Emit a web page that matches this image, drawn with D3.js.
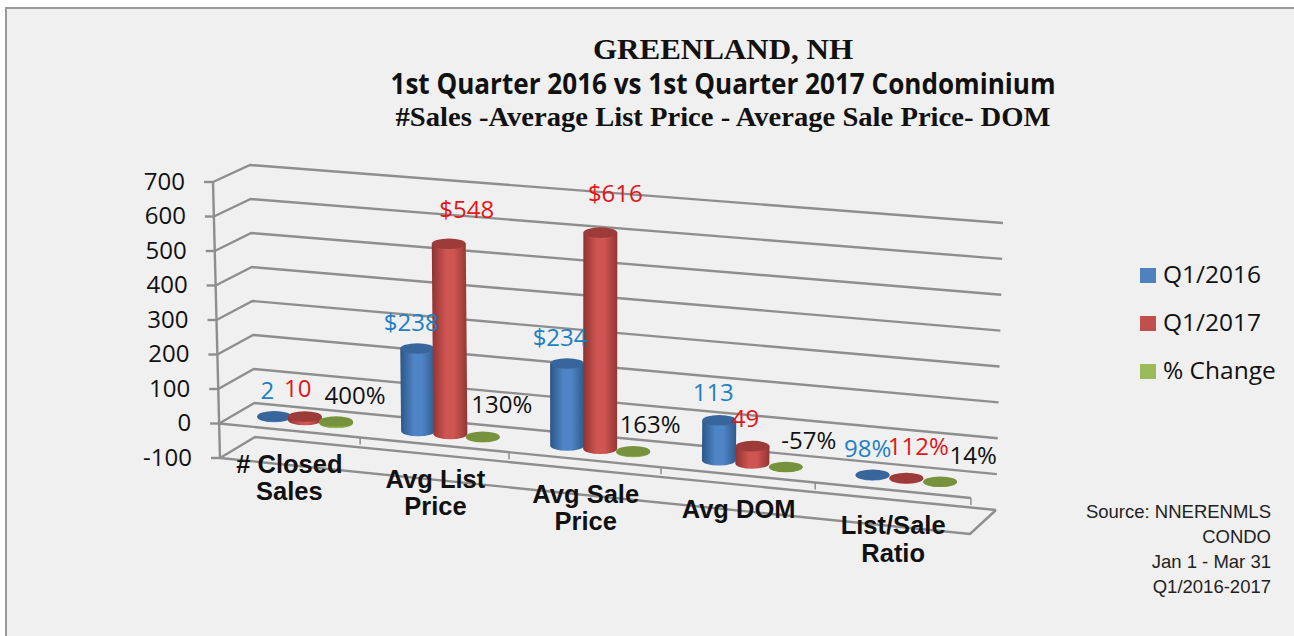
<!DOCTYPE html>
<html>
<head>
<meta charset="utf-8">
<script src="https://cdn.jsdelivr.net/npm/d3@7"></script>
<style>
  html, body { margin: 0; padding: 0; background: #fff; }
  svg { display: block; }
  text { font-family: "Open Sans", sans-serif; }
</style>
</head>
<body>
<div id="container"></div>
<script>
const width = 1294;
const height = 636;

const categories = ['# Closed Sales', 'Avg List Price', 'Avg Sale Price', 'Avg DOM', 'List/Sale Ratio'];
const categoryLines = [['# Closed', 'Sales'], ['Avg List', 'Price'], ['Avg Sale', 'Price'], ['Avg DOM'], ['List/Sale', 'Ratio']];
const seriesNames = ['Q1/2016', 'Q1/2017', '% Change'];
const q12016 = [2, 238, 234, 113, 0.98];
const q12017 = [10, 548, 616, 49, 1.12];
const pctChange = [4, 1.3, 1.63, -0.57, 0.14];
const labels2016 = ['2', '$238', '$234', '113', '98%'];
const labels2017 = ['10', '$548', '$616', '49', '112%'];
const labelsPct = ['400%', '130%', '163%', '-57%', '14%'];
const yTicks = [-100, 0, 100, 200, 300, 400, 500, 600, 700];

const seriesValues = [q12016, q12017, pctChange];
const seriesLabels = [labels2016, labels2017, labelsPct];

const barFill = ['#4f81bd', '#c0504d', '#9bbb59'];
const capFill = ['#38669c', '#9c3b39', '#76923c'];
const labelFill = ['#1f7fc4', '#e3151b', '#111111'];

// label offsets from the top of each bar (dx, baseline dy)
const labelNudge = [
  [[-7, -17], [-6, -17], [-7, -18], [-6, -19], [-5, -18]],
  [[-7, -19], [18, -26], [15, -31], [-7, -19], [12, -23]],
  [[19, -18], [19, -24], [17, -18], [23, -18], [33, -18]]
];

// corners of the 3d box on screen, [bottom (-100), top (700)]
const frontLeft = [[220, 458], [213, 182]];
const backLeft = [[255, 437], [250, 165]];
const backRight = [[996, 510], [1003, 223]];
const frontRight = [[970, 534], [977, 246]];

const yScale = d3.scaleLinear().domain([-100, 700]).range([0, 1]);
const perspective = d3.scalePow().exponent(1.04).domain([0, 1]).range([0, 1]);
const xBand = d3.scaleBand().domain(categories).range([0, 1]);
const seriesBand = d3.scaleBand().domain(seriesNames).range([-0.0655, 0.0655]);

function lerp(a, b, t) { return a + (b - a) * t; }
function edge(c, t) { return [lerp(c[0][0], c[1][0], t), lerp(c[0][1], c[1][1], t)]; }

// u: along the categories 0..1, depth: 0 front, 1 back, v: data value
function project(u, depth, v) {
  const t = yScale(v);
  const p = perspective(u);
  const fl = edge(frontLeft, t), bl = edge(backLeft, t), br = edge(backRight, t), fr = edge(frontRight, t);
  const front = [lerp(fl[0], fr[0], p), lerp(fl[1], fr[1], p)];
  const back = [lerp(bl[0], br[0], p), lerp(bl[1], br[1], p)];
  return [lerp(front[0], back[0], depth), lerp(front[1], back[1], depth)];
}

const line = d3.line();

const svg = d3.select('#container')
  .append('svg')
  .attr('width', width)
  .attr('height', height)
  .attr('viewBox', '0 0 ' + width + ' ' + height);

const defs = svg.append('defs');
const gradStops = [
  ['#2c5687', '#4f85c6', '#2f5a8c'],
  ['#8e3331', '#cf5552', '#923634'],
  ['#76923c', '#9bbb59', '#76923c']
];
seriesNames.forEach((s, i) => {
  const g = defs.append('linearGradient').attr('id', 'bar' + i);
  g.append('stop').attr('offset', '0%').attr('stop-color', gradStops[i][0]);
  g.append('stop').attr('offset', '40%').attr('stop-color', gradStops[i][1]);
  g.append('stop').attr('offset', '62%').attr('stop-color', gradStops[i][1]);
  g.append('stop').attr('offset', '100%').attr('stop-color', gradStops[i][2]);
});

// panel
svg.append('rect').attr('x', 5).attr('y', 7).attr('width', width).attr('height', height).attr('fill', '#9a9a9a');
svg.append('rect').attr('x', 7).attr('y', 9).attr('width', width).attr('height', height).attr('fill', '#f0f0f0');

// titles
const titles = [
  ['GREENLAND, NH', 59, '"Liberation Serif", serif', 29, 260],
  ['1st Quarter 2016 vs 1st Quarter 2017 Condominium', 94, '"Open Sans", sans-serif', 28, 665],
  ['#Sales -Average List Price - Average Sale Price- DOM', 126, '"Liberation Serif", serif', 28, 655]
];
svg.selectAll('.title').data(titles).enter().append('text')
  .attr('class', 'title')
  .attr('x', 723)
  .attr('y', d => d[1])
  .attr('text-anchor', 'middle')
  .attr('font-weight', 'bold')
  .attr('fill', '#111')
  .style('font-family', d => d[2])
  .attr('font-size', d => d[3])
  .attr('textLength', d => d[4])
  .attr('lengthAdjust', 'spacingAndGlyphs')
  .text(d => d[0]);

// walls
const grid = svg.append('g').attr('fill', 'none').attr('stroke', '#8e8e8e').attr('stroke-width', 2.4);
grid.selectAll('.wall').data(yTicks).enter().append('path')
  .attr('class', 'wall')
  .attr('d', v => line([project(0, 0, v), project(0, 1, v), project(1, 1, v)]));
grid.append('path').attr('d', line([project(0, 0, -100), project(0, 0, 700)]));
grid.append('path').attr('d', line([project(0, 0, -100), project(1, 0, -100), project(1, 1, -100)]));
grid.append('path').attr('d', line([project(0, 0, 0), project(1, 0, 0)]));
d3.range(1, 6).forEach(i => {
  const p = project(i / 5, 0, 0);
  grid.append('path').attr('stroke-width', 1.5).attr('d', line([p, [p[0], p[1] + 7]]));
});

// y axis, ticks pushed along the slanted front edge
const yAxisScale = d3.scaleLinear().domain([-100, 700]).range([frontLeft[0][1], frontLeft[1][1]]);
const yAxis = svg.append('g').attr('id', 'y-axis')
  .call(d3.axisLeft(yAxisScale).tickValues(yTicks).tickSize(9).tickPadding(19).tickFormat(d3.format('d')));
yAxis.select('.domain').remove();
yAxis.selectAll('.tick').attr('transform', v => {
  const p = project(0, 0, v);
  return 'translate(' + p[0] + ',' + p[1] + ')';
});
yAxis.selectAll('.tick line').attr('stroke', '#8e8e8e').attr('stroke-width', 2.4);
yAxis.selectAll('.tick text')
  .attr('fill', '#111')
  .style('font-family', '"Open Sans", sans-serif')
  .attr('font-size', 24)
  .text(v => String(v));

// category labels on the front of the floor
const catLabels = svg.append('g').attr('font-weight', 'bold').attr('fill', '#111').attr('text-anchor', 'middle');
categories.forEach((c, i) => {
  const p = project(xBand(c) + xBand.bandwidth() / 2, 0, -100);
  categoryLines[i].forEach((txt, j) => {
    catLabels.append('text')
      .attr('x', p[0] + 1)
      .attr('y', p[1] + 8 + j * 27.5)
      .style('font-family', '"Liberation Sans", sans-serif')
      .attr('font-size', 25.5)
      .text(txt);
  });
});

// cylinders
const rx = 17;
const ry = 5.3;
const bars = svg.append('g');
categories.forEach((c, i) => {
  seriesNames.forEach((s, k) => {
    const u = xBand(c) + xBand.bandwidth() / 2 + seriesBand(s) + seriesBand.bandwidth() / 2;
    const v = seriesValues[k][i];
    const base = project(u, 0.5, 0);
    const top = project(u, 0.5, v);
    bars.append('path')
      .attr('fill', 'url(#bar' + k + ')')
      .attr('d', 'M' + (top[0] - rx) + ',' + top[1] +
        'L' + (base[0] - rx) + ',' + base[1] +
        'A' + rx + ',' + ry + ' 0 0 0 ' + (base[0] + rx) + ',' + base[1] +
        'L' + (top[0] + rx) + ',' + top[1] + 'Z');
    bars.append('ellipse')
      .attr('cx', top[0]).attr('cy', top[1])
      .attr('rx', rx).attr('ry', ry)
      .attr('fill', capFill[k]);
  });
});

// value labels
categories.forEach((c, i) => {
  seriesNames.forEach((s, k) => {
    const u = xBand(c) + xBand.bandwidth() / 2 + seriesBand(s) + seriesBand.bandwidth() / 2;
    const top = project(u, 0.5, seriesValues[k][i]);
    svg.append('text')
      .attr('x', top[0] + labelNudge[k][i][0])
      .attr('y', top[1] + labelNudge[k][i][1])
      .attr('text-anchor', 'middle')
      .attr('font-size', 24)
      .attr('fill', labelFill[k])
      .text(seriesLabels[k][i]);
  });
});

// legend
const legendY = d3.scalePoint().domain(seriesNames).range([275.5, 371.5]);
const legend = svg.append('g').attr('id', 'legend');
seriesNames.forEach((s, k) => {
  legend.append('rect')
    .attr('x', 1140).attr('y', legendY(s) - 7.5)
    .attr('width', 16).attr('height', 15)
    .attr('fill', barFill[k]);
  legend.append('text')
    .attr('x', 1163).attr('y', legendY(s) + 7.5)
    .attr('font-size', 24.5)
    .attr('fill', '#111')
    .text(s);
});

// source note
const sourceLines = ['Source: NNERENMLS', 'CONDO', 'Jan 1 - Mar 31', 'Q1/2016-2017'];
svg.selectAll('.source').data(sourceLines).enter().append('text')
  .attr('class', 'source')
  .attr('x', 1271)
  .attr('y', (d, i) => 518 + i * 25)
  .attr('text-anchor', 'end')
  .style('font-family', '"Liberation Sans", sans-serif')
  .attr('font-size', 18.5)
  .attr('fill', '#222')
  .text(d => d);
</script>
</body>
</html>
